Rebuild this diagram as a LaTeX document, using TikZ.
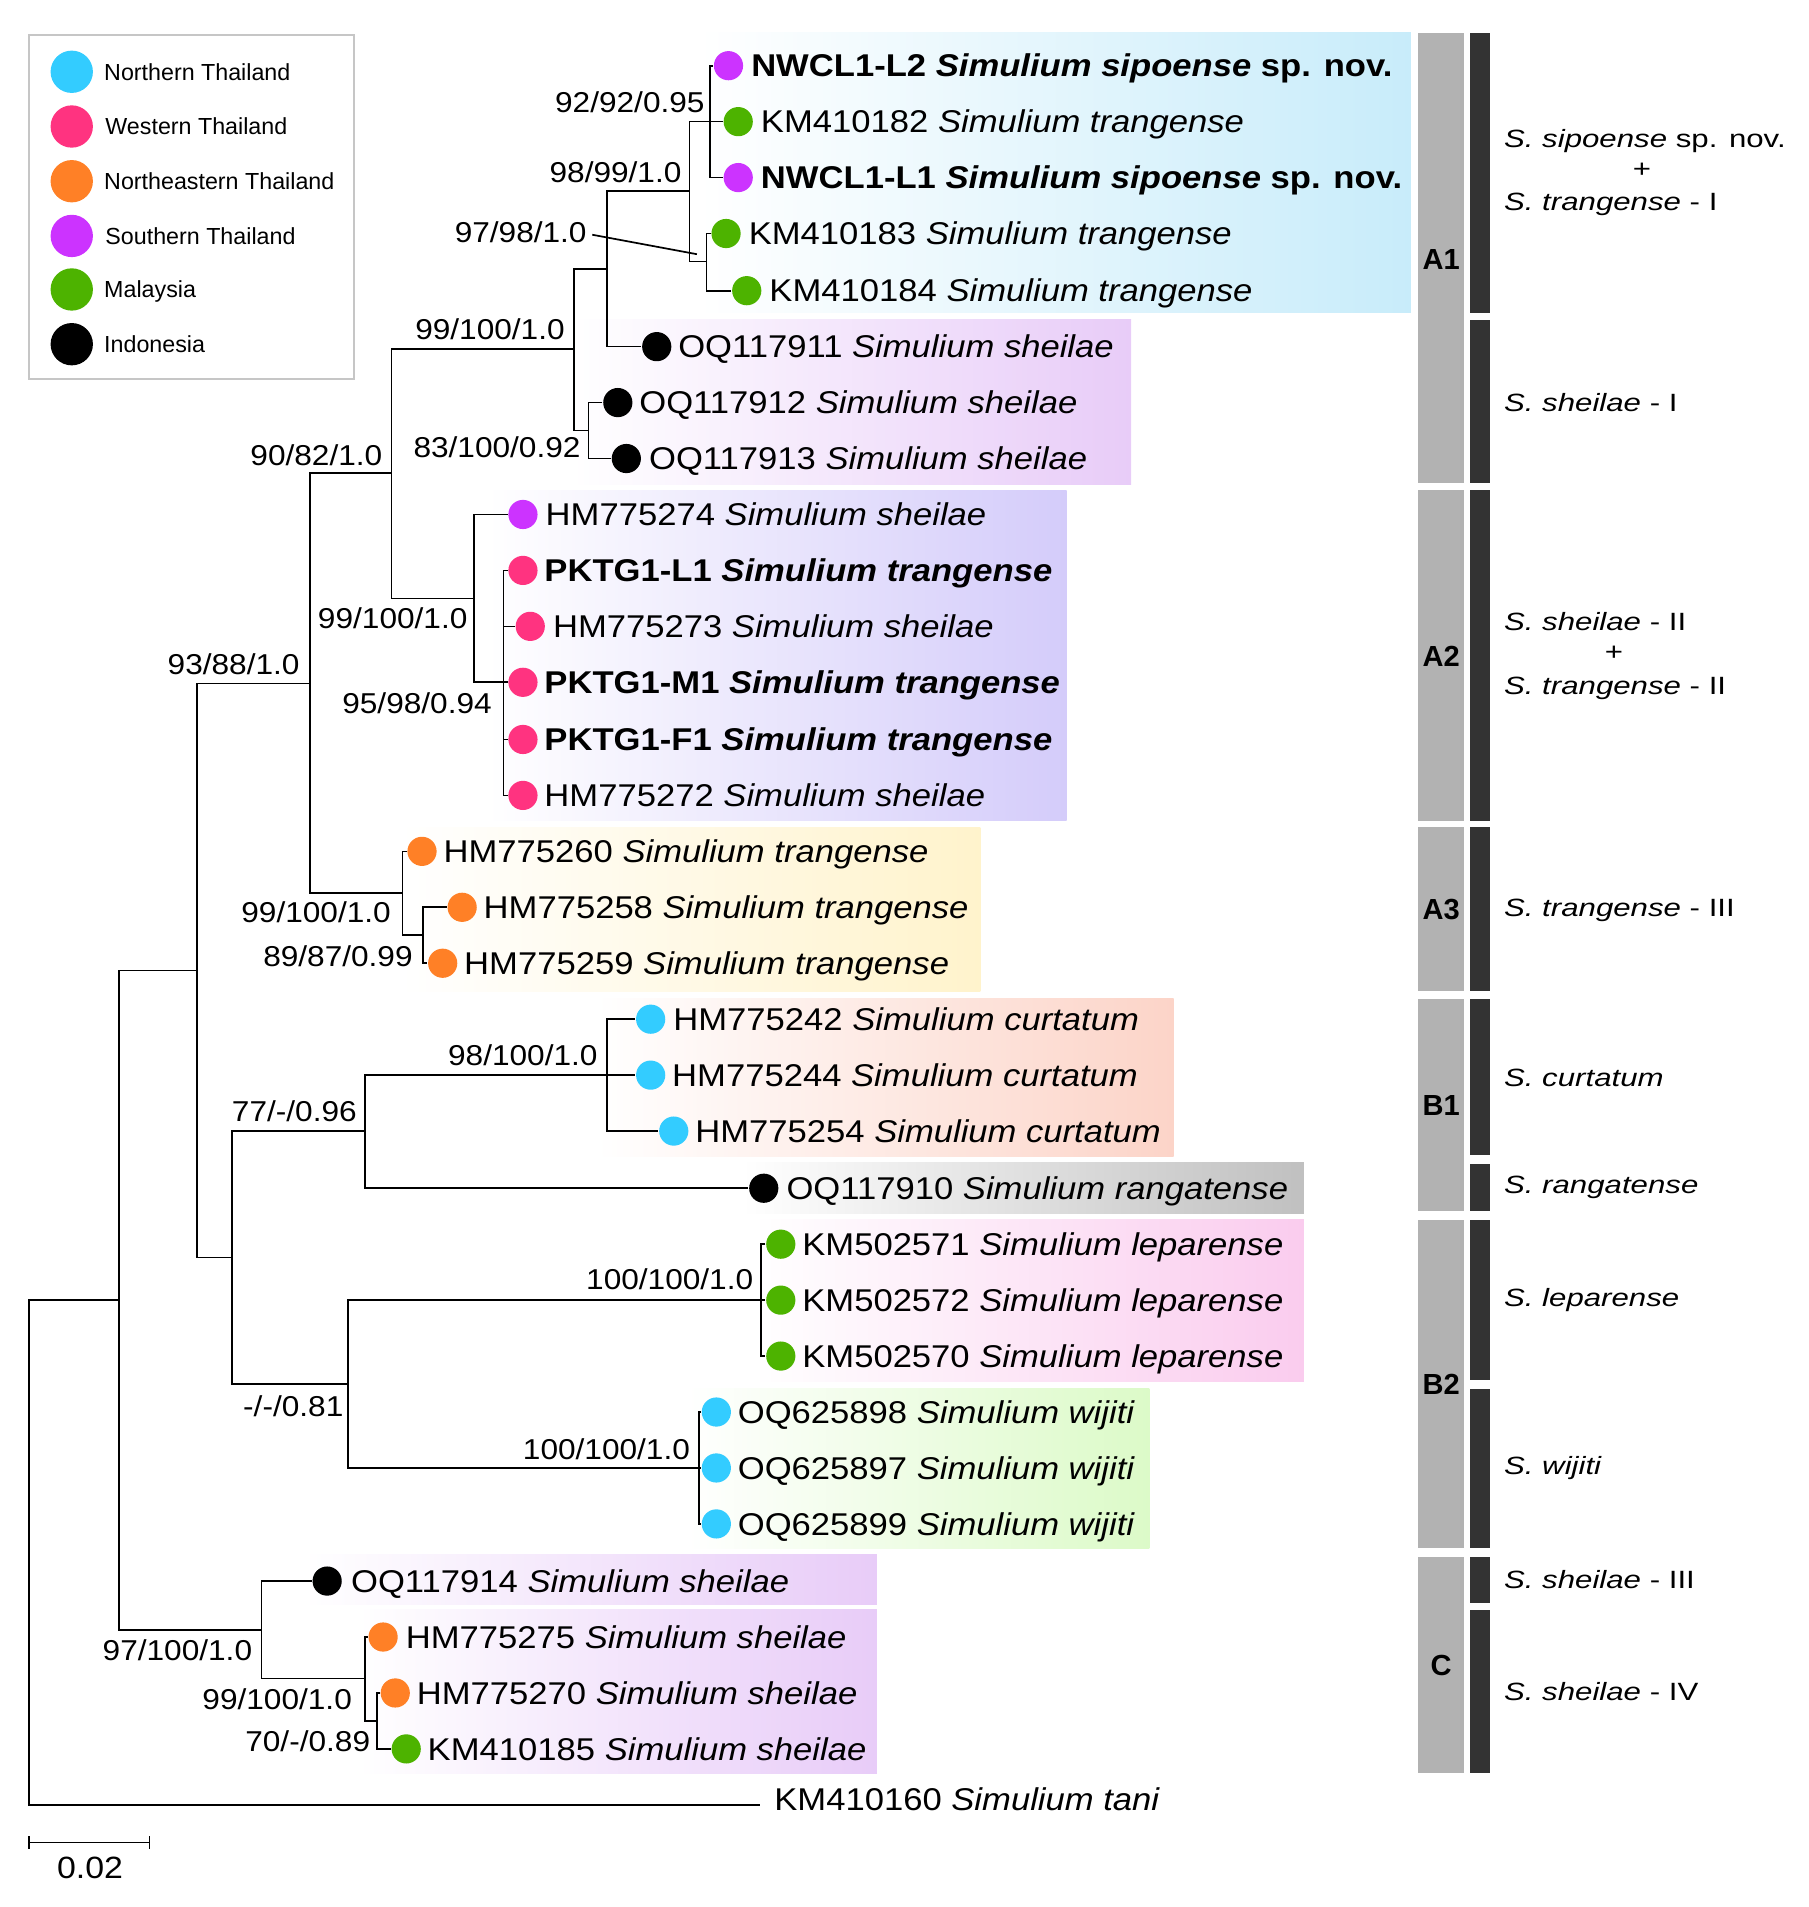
\documentclass[tikz,border=0pt]{standalone}
\usepackage{fontspec}
\setmainfont{Liberation Sans}
\newfontfamily\tipfont[FakeStretch=1.1]{Liberation Sans}
\newfontfamily\widefont[FakeStretch=1.25]{Liberation Sans}

\begin{document}
\begin{tikzpicture}[x=0.0125cm, y=-0.0125cm, line width=0.5pt,
    dot/.style={circle, inner sep=0pt, minimum size=0.3cm},
    legdot/.style={circle, inner sep=0pt, minimum size=0.435cm},
    tiplab/.style={anchor=west, inner sep=0pt, text height=6.6pt, text depth=0pt, font=\tipfont\fontsize{9.2}{11}\selectfont},
    bslab/.style={anchor=east, inner sep=0pt, text height=6pt, text depth=0pt, font=\tipfont\fontsize{8.4}{10}\selectfont},
    leglab/.style={anchor=west, inner sep=0pt, text height=4.9pt, text depth=0pt, font=\fontsize{6.8}{8}\selectfont},
    grplab/.style={anchor=west, inner sep=0pt, text height=5.2pt, text depth=0pt, font=\widefont\fontsize{7.3}{9}\selectfont},
    cladelab/.style={inner sep=0pt, font=\bfseries\fontsize{8.5}{10}\selectfont}]

    % colores de las regiones
    \definecolor{northcol}{RGB}{51,204,255}
    \definecolor{westcol}{RGB}{255,51,128}
    \definecolor{necol}{RGB}{255,128,38}
    \definecolor{southcol}{RGB}{204,51,255}
    \definecolor{malaycol}{RGB}{77,179,0}
    \definecolor{indocol}{RGB}{0,0,0}
    % colores de los sombreados
    \definecolor{shadeblue}{RGB}{200,236,250}
    \definecolor{shadeviolet}{RGB}{232,204,248}
    \definecolor{shadelav}{RGB}{212,204,250}
    \definecolor{shadeyellow}{RGB}{255,243,204}
    \definecolor{shadesalmon}{RGB}{252,212,200}
    \definecolor{shadegray}{RGB}{192,192,192}
    \definecolor{shadepink}{RGB}{250,204,238}
    \definecolor{shadegreen}{RGB}{220,250,200}
    \definecolor{barlight}{RGB}{178,178,178}
    \definecolor{bardark}{RGB}{51,51,51}

    \useasboundingbox (0,0) rectangle (1487,1568);

    % --- sombreados de los clados ---
    \shade[left color=white, right color=shadeblue] (575,27) rectangle (1160,257);
    \shade[left color=white, right color=shadeviolet] (470,263) rectangle (930,398);
    \shade[left color=white, right color=shadelav] (400,403) rectangle (877,675);
    \shade[left color=white, right color=shadeyellow] (330,680) rectangle (806,815);
    \shade[left color=white, right color=shadesalmon] (490,821) rectangle (965,951);
    \shade[left color=white, right color=shadegray] (610,956) rectangle (1072,998);
    \shade[left color=white, right color=shadepink] (620,1003) rectangle (1072,1136);
    \shade[left color=white, right color=shadegreen] (565,1142) rectangle (945,1273);
    \shade[left color=white, right color=shadeviolet] (250,1278) rectangle (721,1319);
    \shade[left color=white, right color=shadeviolet] (295,1323) rectangle (721,1458);

    % --- barras de clados (gris) ---
    \fill[barlight] (1166,27) rectangle (1204,397);
    \fill[barlight] (1166,403) rectangle (1204,675);
    \fill[barlight] (1166,680) rectangle (1204,815);
    \fill[barlight] (1166,821) rectangle (1204,996);
    \fill[barlight] (1166,1003) rectangle (1204,1273);
    \fill[barlight] (1166,1280) rectangle (1204,1458);
    \node[cladelab] (A1) at (1185,213) {A1};
    \node[cladelab] (A2) at (1185,540) {A2};
    \node[cladelab] (A3) at (1185,748) {A3};
    \node[cladelab] (B1) at (1185,909) {B1};
    \node[cladelab] (B2) at (1185,1138) {B2};
    \node[cladelab] (C) at (1185,1369) {C};

    % --- barras de linajes (oscuro) ---
    \fill[bardark] (1209,27) rectangle (1225,257);
    \fill[bardark] (1209,263) rectangle (1225,397);
    \fill[bardark] (1209,403) rectangle (1225,675);
    \fill[bardark] (1209,680) rectangle (1225,815);
    \fill[bardark] (1209,821) rectangle (1225,950);
    \fill[bardark] (1209,957) rectangle (1225,996);
    \fill[bardark] (1209,1003) rectangle (1225,1135);
    \fill[bardark] (1209,1142) rectangle (1225,1273);
    \fill[bardark] (1209,1280) rectangle (1225,1318);
    \fill[bardark] (1209,1324) rectangle (1225,1458);

    % etiquetas de linajes
    \node[grplab] (g1a) at (1236,114) {\itshape S. sipoense \upshape sp. nov.};
    \node[grplab, anchor=center] (g1b) at (1350,139) {+};
    \node[grplab] (g1c) at (1236,166) {\itshape S. trangense \upshape - I};
    \node[grplab] (g2) at (1236,331) {\itshape S. sheilae \upshape - I};
    \node[grplab] (g3a) at (1236,511) {\itshape S. sheilae \upshape - II};
    \node[grplab, anchor=center] (g3b) at (1327,536) {+};
    \node[grplab] (g3c) at (1236,564) {\itshape S. trangense \upshape - II};
    \node[grplab] (g4) at (1236,746) {\itshape S. trangense \upshape - III};
    \node[grplab] (g5) at (1236,886) {\itshape S. curtatum};
    \node[grplab] (g6) at (1236,974) {\itshape S. rangatense};
    \node[grplab] (g7) at (1236,1067) {\itshape S. leparense};
    \node[grplab] (g8) at (1236,1205) {\itshape S. wijiti};
    \node[grplab] (g9) at (1236,1299) {\itshape S. sheilae \upshape - III};
    \node[grplab] (g10) at (1236,1391) {\itshape S. sheilae \upshape - IV};

    % --- leyenda ---
    \draw[gray!45, line width=0.6pt] (24,29) rectangle (291,312);
    \node[legdot, fill=northcol] (k1) at (59,59) {};
    \node[leglab] (h1) at (85,59) {Northern Thailand};
    \node[legdot, fill=westcol] (k2) at (59,104) {};
    \node[leglab] (h2) at (86,104) {Western Thailand};
    \node[legdot, fill=necol] (k3) at (59,149) {};
    \node[leglab] (h3) at (85,149) {Northeastern Thailand};
    \node[legdot, fill=southcol] (k4) at (59,194) {};
    \node[leglab] (h4) at (86,194) {Southern Thailand};
    \node[legdot, fill=malaycol] (k5) at (59,238) {};
    \node[leglab] (h5) at (85,238) {Malaysia};
    \node[legdot, fill=indocol] (k6) at (59,283) {};
    \node[leglab] (h6) at (85,283) {Indonesia};

    % --- terminales: punto + nombre ---
    \node[dot, fill=southcol] (d1) at (599,54) {};
    \node[tiplab] (t1) at (617,54) {\bfseries NWCL1-L2 \itshape Simulium sipoense \upshape sp. nov.};
    \node[dot, fill=malaycol] (d2) at (607,100) {};
    \node[tiplab] (t2) at (625,100) {KM410182 \itshape Simulium trangense};
    \node[dot, fill=southcol] (d3) at (607,146) {};
    \node[tiplab] (t3) at (625,146) {\bfseries NWCL1-L1 \itshape Simulium sipoense \upshape sp. nov.};
    \node[dot, fill=malaycol] (d4) at (597,192) {};
    \node[tiplab] (t4) at (615,192) {KM410183 \itshape Simulium trangense};
    \node[dot, fill=malaycol] (d5) at (614,239) {};
    \node[tiplab] (t5) at (632,239) {KM410184 \itshape Simulium trangense};
    \node[dot, fill=indocol] (d6) at (540,285) {};
    \node[tiplab] (t6) at (557,285) {OQ117911 \itshape Simulium sheilae};
    \node[dot, fill=indocol] (d7) at (508,331) {};
    \node[tiplab] (t7) at (525,331) {OQ117912 \itshape Simulium sheilae};
    \node[dot, fill=indocol] (d8) at (515,377) {};
    \node[tiplab] (t8) at (533,377) {OQ117913 \itshape Simulium sheilae};
    \node[dot, fill=southcol] (d9) at (430,423) {};
    \node[tiplab] (t9) at (448,423) {HM775274 \itshape Simulium sheilae};
    \node[dot, fill=westcol] (d10) at (430,469) {};
    \node[tiplab] (t10) at (447,469) {\bfseries PKTG1-L1 \itshape Simulium trangense};
    \node[dot, fill=westcol] (d11) at (436,515) {};
    \node[tiplab] (t11) at (454,515) {HM775273 \itshape Simulium sheilae};
    \node[dot, fill=westcol] (d12) at (430,561) {};
    \node[tiplab] (t12) at (447,561) {\bfseries PKTG1-M1 \itshape Simulium trangense};
    \node[dot, fill=westcol] (d13) at (430,608) {};
    \node[tiplab] (t13) at (447,608) {\bfseries PKTG1-F1 \itshape Simulium trangense};
    \node[dot, fill=westcol] (d14) at (430,654) {};
    \node[tiplab] (t14) at (447,654) {HM775272 \itshape Simulium sheilae};
    \node[dot, fill=necol] (d15) at (347,700) {};
    \node[tiplab] (t15) at (364,700) {HM775260 \itshape Simulium trangense};
    \node[dot, fill=necol] (d16) at (380,746) {};
    \node[tiplab] (t16) at (397,746) {HM775258 \itshape Simulium trangense};
    \node[dot, fill=necol] (d17) at (364,792) {};
    \node[tiplab] (t17) at (381,792) {HM775259 \itshape Simulium trangense};
    \node[dot, fill=northcol] (d18) at (535,838) {};
    \node[tiplab] (t18) at (553,838) {HM775242 \itshape Simulium curtatum};
    \node[dot, fill=northcol] (d19) at (535,884) {};
    \node[tiplab] (t19) at (552,884) {HM775244 \itshape Simulium curtatum};
    \node[dot, fill=northcol] (d20) at (554,930) {};
    \node[tiplab] (t20) at (571,930) {HM775254 \itshape Simulium curtatum};
    \node[dot, fill=indocol] (d21) at (628,977) {};
    \node[tiplab] (t21) at (646,977) {OQ117910 \itshape Simulium rangatense};
    \node[dot, fill=malaycol] (d22) at (642,1023) {};
    \node[tiplab] (t22) at (659,1023) {KM502571 \itshape Simulium leparense};
    \node[dot, fill=malaycol] (d23) at (642,1069) {};
    \node[tiplab] (t23) at (659,1069) {KM502572 \itshape Simulium leparense};
    \node[dot, fill=malaycol] (d24) at (642,1115) {};
    \node[tiplab] (t24) at (659,1115) {KM502570 \itshape Simulium leparense};
    \node[dot, fill=northcol] (d25) at (589,1161) {};
    \node[tiplab] (t25) at (606,1161) {OQ625898 \itshape Simulium wijiti};
    \node[dot, fill=northcol] (d26) at (589,1207) {};
    \node[tiplab] (t26) at (606,1207) {OQ625897 \itshape Simulium wijiti};
    \node[dot, fill=northcol] (d27) at (589,1253) {};
    \node[tiplab] (t27) at (606,1253) {OQ625899 \itshape Simulium wijiti};
    \node[dot, fill=indocol] (d28) at (269,1300) {};
    \node[tiplab] (t28) at (288,1300) {OQ117914 \itshape Simulium sheilae};
    \node[dot, fill=necol] (d29) at (315,1346) {};
    \node[tiplab] (t29) at (333,1346) {HM775275 \itshape Simulium sheilae};
    \node[dot, fill=necol] (d30) at (325,1392) {};
    \node[tiplab] (t30) at (342,1392) {HM775270 \itshape Simulium sheilae};
    \node[dot, fill=malaycol] (d31) at (334,1438) {};
    \node[tiplab] (t31) at (351,1438) {KM410185 \itshape Simulium sheilae};
    % grupo externo
    \coordinate (c32) at (625,1484);
    \node[tiplab] (t32) at (636,1479) {KM410160 \itshape Simulium tani};

    % --- nodos internos ---
    \coordinate (r) at (24,1069);
    \coordinate (n1) at (98,1069);
    \coordinate (n2) at (162,798);
    \coordinate (n3) at (255,562);
    \coordinate (n4) at (322,389);
    \coordinate (n5) at (472,287);
    \coordinate (n6) at (499,221);
    \coordinate (n7) at (567,157);
    \coordinate (n8) at (584,100);
    \coordinate (n9) at (581,215);
    \coordinate (n10) at (484,354);
    \coordinate (n11) at (390,492);
    \coordinate (n12) at (414,561);
    \coordinate (n13) at (331,734);
    \coordinate (n14) at (348,769);
    \coordinate (n15) at (191,1034);
    \coordinate (n16) at (300,930);
    \coordinate (n17) at (499,884);
    \coordinate (n18) at (286,1138);
    \coordinate (n19) at (626,1069);
    \coordinate (n20) at (575,1207);
    \coordinate (n21) at (215,1340);
    \coordinate (n22) at (300,1380);
    \coordinate (n23) at (310,1415);

    % --- ramas ---
    \draw (n1) -| (r) |- (c32);
    \draw (n2) -| (n1) |- (n21);
    \draw (n3) -| (n2) |- (n15);
    \draw (n4) -| (n3) |- (n13);
    \draw (n5) -| (n4) |- (n11);
    \draw (n6) -| (n5) |- (n10);
    \draw (n7) -| (n6) |- (d6);
    \draw (n8) -| (n7) |- (n9);
    \draw (d1) -| (n8) |- (d3);
    \draw (n8) -- (d2);
    \draw (d4) -| (n9) |- (d5);
    \draw (d7) -| (n10) |- (d8);
    \draw (d9) -| (n11) |- (n12);
    \draw (d10) -| (n12) |- (d14);
    \draw (n12 |- d11) -- (d11);
    \draw (n12 |- d12) -- (d12);
    \draw (n12 |- d13) -- (d13);
    \draw (d15) -| (n13) |- (n14);
    \draw (d16) -| (n14) |- (d17);
    \draw (n16) -| (n15) |- (n18);
    \draw (n17) -| (n16) |- (d21);
    \draw (d18) -| (n17) |- (d20);
    \draw (n17) -- (d19);
    \draw (n19) -| (n18) |- (n20);
    \draw (d22) -| (n19) |- (d24);
    \draw (n19) -- (d23);
    \draw (d25) -| (n20) |- (d27);
    \draw (n20) -- (d26);
    \draw (d28) -| (n21) |- (n22);
    \draw (d29) -| (n22) |- (n23);
    \draw (d30) -| (n23) |- (d31);

    % --- soportes ---
    \node[bslab] (b8) at (580,84) {92/92/0.95};
    \node[bslab] (b7) at (561,142) {98/99/1.0};
    \node[bslab] (b9) at (483,191) {97/98/1.0};
    \coordinate (b9end) at (573,209);
    \draw (b9.east) ++(4,2) -- (b9end);
    \node[bslab] (b5) at (465,271) {99/100/1.0};
    \node[bslab] (b10) at (478,368) {83/100/0.92};
    \node[bslab] (b4) at (315,374) {90/82/1.0};
    \node[bslab] (b11) at (385,508) {99/100/1.0};
    \node[bslab] (b12) at (405,578) {95/98/0.94};
    \node[bslab] (b3) at (247,546) {93/88/1.0};
    \node[bslab] (b13) at (322,750) {99/100/1.0};
    \node[bslab] (b14) at (340,786) {89/87/0.99};
    \node[bslab] (b17) at (492,868) {98/100/1.0};
    \node[bslab] (b16) at (294,914) {77/-/0.96};
    \node[bslab] (b19) at (620,1052) {100/100/1.0};
    \node[bslab] (b18) at (283,1156) {-/-/0.81};
    \node[bslab] (b20) at (568,1192) {100/100/1.0};
    \node[bslab] (b21) at (208,1357) {97/100/1.0};
    \node[bslab] (b22) at (290,1397) {99/100/1.0};
    \node[bslab] (b23) at (305,1432) {70/-/0.89};

    % --- barra de escala ---
    \draw (24,1515) -- (123,1515);
    \draw (24,1510) -- (24,1520);
    \draw (123,1510) -- (123,1520);
    \node[inner sep=0pt, font=\tipfont\fontsize{9}{10}\selectfont] (sb) at (74,1536) {0.02};

\end{tikzpicture}
\end{document}
